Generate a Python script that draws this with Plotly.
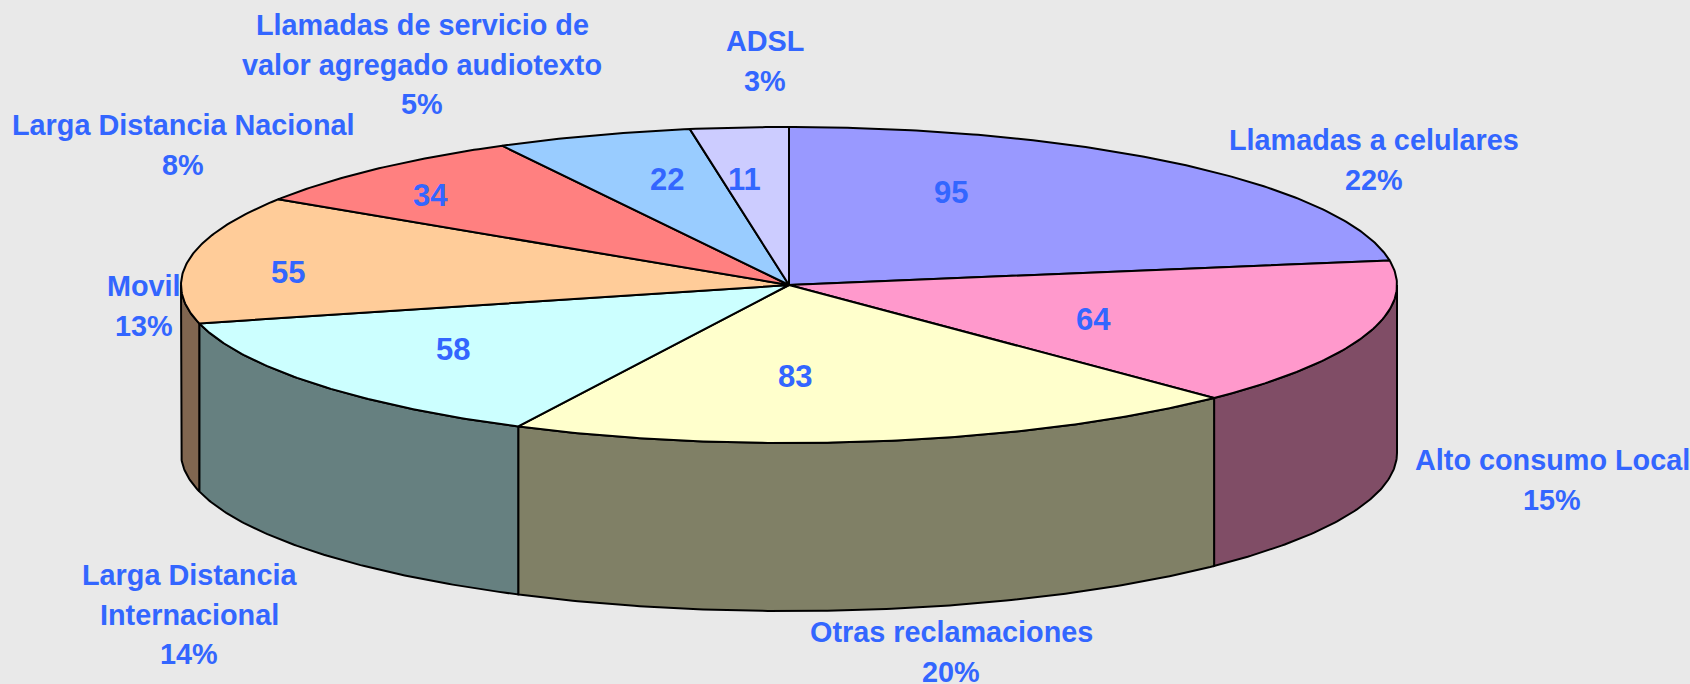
import numpy as np
import plotly.graph_objects as go

# Reclamos por tipo, sentido horario desde las 12
categories = [
    ["Llamadas a celulares"],
    ["Alto consumo Local"],
    ["Otras reclamaciones"],
    ["Larga Distancia", "Internacional"],
    ["Movil"],
    ["Larga Distancia Nacional"],
    ["Llamadas de servicio de", "valor agregado audiotexto"],
    ["ADSL"],
]
values = [95, 64, 83, 58, 55, 34, 22, 11]
percents = ["22%", "15%", "20%", "14%", "13%", "8%", "5%", "3%"]
top_colors = ["#9999FF", "#FF99CC", "#FFFFCC", "#CCFFFF", "#FFCC99", "#FF8080", "#99CCFF", "#CCCCFF"]
side_colors = ["#4D4D80", "#804D66", "#808066", "#668080", "#806650", "#804040", "#4D6680", "#666680"]

# pie geometry in page pixels
CX, CY, RX, RY, DEPTH = 789, 285, 608, 158, 168
TEXT_BLUE = "#3366FF"
FONT = "Liberation Sans"
LINE_GAP = 39.5

# centre of the first line of each category label, centre of each value label
label_pos = [(1374, 140), (1552, 460), (951, 632), (189, 575), (144, 286), (183, 125), (422, 25), (765, 41)]
value_pos = [(951, 192), (1093, 319), (795, 376), (453, 349), (288, 272), (430, 195), (667, 179), (744, 179)]


def arc(a1, a2, drop=0):
    t = np.radians(np.linspace(a1, a2, max(int(abs(a2 - a1)) * 2, 2)))
    return CX + RX * np.sin(t), CY - RY * np.cos(t) + drop


fig = go.Figure()
line = dict(color="black", width=2)

edges = np.cumsum([0] + values) / sum(values) * 360

# outer wall: only the front half of the disc can be seen
for i in range(len(values)):
    a1, a2 = max(edges[i], 90), min(edges[i + 1], 270)
    if a1 >= a2:
        continue
    x1, y1 = arc(a1, a2)
    x2, y2 = arc(a2, a1, DEPTH)
    fig.add_trace(go.Scatter(
        x=np.r_[x1, x2, x1[0]],
        y=np.r_[y1, y2, y1[0]],
        mode="lines", fill="toself", fillcolor=side_colors[i], line=line,
        hoverinfo="skip", showlegend=False
    ))

# top face
for i in range(len(values)):
    x, y = arc(edges[i], edges[i + 1])
    fig.add_trace(go.Scatter(
        x=np.r_[CX, x, CX],
        y=np.r_[CY, y, CY],
        mode="lines", fill="toself", fillcolor=top_colors[i], line=line,
        hoverinfo="skip", showlegend=False
    ))


def add_text(x, y, text, size):
    fig.add_annotation(
        x=x, y=y, text=text, showarrow=False,
        xanchor="center", yanchor="middle",
        font=dict(family=FONT, size=size, color=TEXT_BLUE)
    )


for i, name_lines in enumerate(categories):
    x, y = label_pos[i]
    lines = name_lines + [percents[i]]
    for j, txt in enumerate(lines):
        add_text(x, y + j * LINE_GAP, f"<b>{txt}</b>", 28.8)
    add_text(value_pos[i][0], value_pos[i][1], f"<b>{values[i]}</b>", 31)

fig.update_layout(
    width=1690, height=684,
    margin=dict(l=0, r=0, t=0, b=0),
    paper_bgcolor="#E9E9E9",
    plot_bgcolor="#E9E9E9",
    xaxis=dict(range=[0, 1690], visible=False, fixedrange=True),
    yaxis=dict(range=[684, 0], visible=False, fixedrange=True),
    showlegend=False
)
fig.write_html(
    "out.html",
    config=dict(displayModeBar=False),
    post_script="document.body.style.margin='0';document.body.style.overflow='hidden';"
)
